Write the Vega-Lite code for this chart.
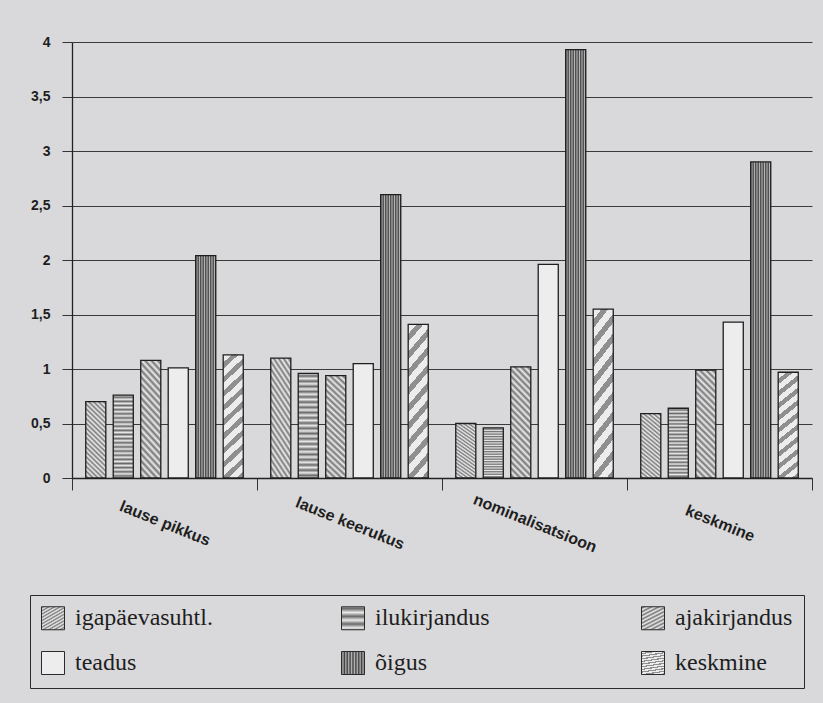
{
  "$schema": "https://vega.github.io/schema/vega-lite/v6.json",
  "width": 740,
  "height": 436,
  "autosize": {"type": "none"},
  "padding": {"left": 72, "top": 42, "right": 11, "bottom": 225},
  "background": "#d9d9db",
  "config": {"view": {"stroke": null}},
  "data": {
    "values": [
      {"kategooria": "lause pikkus", "tekst": "igapäevasuhtl.", "vaartus": 0.70},
      {"kategooria": "lause pikkus", "tekst": "ilukirjandus", "vaartus": 0.76},
      {"kategooria": "lause pikkus", "tekst": "ajakirjandus", "vaartus": 1.08},
      {"kategooria": "lause pikkus", "tekst": "teadus", "vaartus": 1.01},
      {"kategooria": "lause pikkus", "tekst": "õigus", "vaartus": 2.04},
      {"kategooria": "lause pikkus", "tekst": "keskmine", "vaartus": 1.13},
      {"kategooria": "lause keerukus", "tekst": "igapäevasuhtl.", "vaartus": 1.10},
      {"kategooria": "lause keerukus", "tekst": "ilukirjandus", "vaartus": 0.96},
      {"kategooria": "lause keerukus", "tekst": "ajakirjandus", "vaartus": 0.94},
      {"kategooria": "lause keerukus", "tekst": "teadus", "vaartus": 1.05},
      {"kategooria": "lause keerukus", "tekst": "õigus", "vaartus": 2.60},
      {"kategooria": "lause keerukus", "tekst": "keskmine", "vaartus": 1.41},
      {"kategooria": "nominalisatsioon", "tekst": "igapäevasuhtl.", "vaartus": 0.50},
      {"kategooria": "nominalisatsioon", "tekst": "ilukirjandus", "vaartus": 0.46},
      {"kategooria": "nominalisatsioon", "tekst": "ajakirjandus", "vaartus": 1.02},
      {"kategooria": "nominalisatsioon", "tekst": "teadus", "vaartus": 1.96},
      {"kategooria": "nominalisatsioon", "tekst": "õigus", "vaartus": 3.93},
      {"kategooria": "nominalisatsioon", "tekst": "keskmine", "vaartus": 1.55},
      {"kategooria": "keskmine", "tekst": "igapäevasuhtl.", "vaartus": 0.59},
      {"kategooria": "keskmine", "tekst": "ilukirjandus", "vaartus": 0.64},
      {"kategooria": "keskmine", "tekst": "ajakirjandus", "vaartus": 0.99},
      {"kategooria": "keskmine", "tekst": "teadus", "vaartus": 1.43},
      {"kategooria": "keskmine", "tekst": "õigus", "vaartus": 2.90},
      {"kategooria": "keskmine", "tekst": "keskmine", "vaartus": 0.97}
    ]
  },
  "mark": {"type": "bar", "stroke": "#1e1e1e", "strokeWidth": 1.3},
  "encoding": {
    "x": {
      "field": "kategooria",
      "type": "nominal",
      "sort": ["lause pikkus", "lause keerukus", "nominalisatsioon", "keskmine"],
      "scale": {"paddingInner": 0, "paddingOuter": 0},
      "axis": {
        "title": null,
        "tickBand": "extent",
        "tickSize": 12,
        "tickColor": "#333333",
        "domainColor": "#222222",
        "domainWidth": 1.3,
        "labelAngle": 22,
        "labelAlign": "center",
        "labelBaseline": "middle",
        "labelPadding": 33,
        "labelFont": "Liberation Sans",
        "labelFontWeight": "bold",
        "labelFontSize": 16,
        "labelColor": "#1e1e1e"
      }
    },
    "xOffset": {
      "field": "tekst",
      "type": "nominal",
      "sort": ["igapäevasuhtl.", "ilukirjandus", "ajakirjandus", "teadus", "õigus", "keskmine"],
      "scale": {"paddingInner": 0.27, "paddingOuter": 0.5}
    },
    "y": {
      "field": "vaartus",
      "type": "quantitative",
      "scale": {"domain": [0, 4]},
      "axis": {
        "title": null,
        "values": [0, 0.5, 1, 1.5, 2, 2.5, 3, 3.5, 4],
        "labelExpr": "replace(toString(datum.value), '.', ',')",
        "grid": true,
        "gridColor": "#3a3a3a",
        "gridWidth": 1,
        "tickSize": 10,
        "tickColor": "#333333",
        "domainColor": "#222222",
        "domainWidth": 1.3,
        "labelPadding": 12,
        "labelFont": "Liberation Sans",
        "labelFontWeight": "bold",
        "labelFontSize": 14,
        "labelColor": "#1e1e1e"
      }
    },
    "fill": {
      "field": "tekst",
      "type": "nominal",
      "sort": ["igapäevasuhtl.", "ilukirjandus", "ajakirjandus", "teadus", "õigus", "keskmine"],
      "scale": {
        "domain": ["igapäevasuhtl.", "ilukirjandus", "ajakirjandus", "teadus", "õigus", "keskmine"],
        "range": [
          {"expr": "{gradient:'linear',x1:1,y1:0,x2:0.698,y2:1.179,stops:[{offset:0,color:'#eeeeee'},{offset:0.025,color:'#7a7a7a'},{offset:0.05,color:'#eeeeee'},{offset:0.075,color:'#7a7a7a'},{offset:0.1,color:'#eeeeee'},{offset:0.125,color:'#7a7a7a'},{offset:0.15,color:'#eeeeee'},{offset:0.175,color:'#7a7a7a'},{offset:0.2,color:'#eeeeee'},{offset:0.225,color:'#7a7a7a'},{offset:0.25,color:'#eeeeee'},{offset:0.275,color:'#7a7a7a'},{offset:0.3,color:'#eeeeee'},{offset:0.325,color:'#7a7a7a'},{offset:0.35,color:'#eeeeee'},{offset:0.375,color:'#7a7a7a'},{offset:0.4,color:'#eeeeee'},{offset:0.425,color:'#7a7a7a'},{offset:0.45,color:'#eeeeee'},{offset:0.475,color:'#7a7a7a'},{offset:0.5,color:'#eeeeee'},{offset:0.525,color:'#7a7a7a'},{offset:0.55,color:'#eeeeee'},{offset:0.575,color:'#7a7a7a'},{offset:0.6,color:'#eeeeee'},{offset:0.625,color:'#7a7a7a'},{offset:0.65,color:'#eeeeee'},{offset:0.675,color:'#7a7a7a'},{offset:0.7,color:'#eeeeee'},{offset:0.725,color:'#7a7a7a'},{offset:0.75,color:'#eeeeee'},{offset:0.775,color:'#7a7a7a'},{offset:0.8,color:'#eeeeee'},{offset:0.825,color:'#7a7a7a'},{offset:0.85,color:'#eeeeee'},{offset:0.875,color:'#7a7a7a'},{offset:0.9,color:'#eeeeee'},{offset:0.925,color:'#7a7a7a'},{offset:0.95,color:'#eeeeee'},{offset:0.975,color:'#7a7a7a'},{offset:1,color:'#eeeeee'}]}"},
          {"expr": "{gradient:'linear',x1:0,y1:0,x2:0,y2:1,stops:[{offset:0,color:'#eaeaea'},{offset:0.025,color:'#6a6a6a'},{offset:0.05,color:'#eaeaea'},{offset:0.075,color:'#6a6a6a'},{offset:0.1,color:'#eaeaea'},{offset:0.125,color:'#6a6a6a'},{offset:0.15,color:'#eaeaea'},{offset:0.175,color:'#6a6a6a'},{offset:0.2,color:'#eaeaea'},{offset:0.225,color:'#6a6a6a'},{offset:0.25,color:'#eaeaea'},{offset:0.275,color:'#6a6a6a'},{offset:0.3,color:'#eaeaea'},{offset:0.325,color:'#6a6a6a'},{offset:0.35,color:'#eaeaea'},{offset:0.375,color:'#6a6a6a'},{offset:0.4,color:'#eaeaea'},{offset:0.425,color:'#6a6a6a'},{offset:0.45,color:'#eaeaea'},{offset:0.475,color:'#6a6a6a'},{offset:0.5,color:'#eaeaea'},{offset:0.525,color:'#6a6a6a'},{offset:0.55,color:'#eaeaea'},{offset:0.575,color:'#6a6a6a'},{offset:0.6,color:'#eaeaea'},{offset:0.625,color:'#6a6a6a'},{offset:0.65,color:'#eaeaea'},{offset:0.675,color:'#6a6a6a'},{offset:0.7,color:'#eaeaea'},{offset:0.725,color:'#6a6a6a'},{offset:0.75,color:'#eaeaea'},{offset:0.775,color:'#6a6a6a'},{offset:0.8,color:'#eaeaea'},{offset:0.825,color:'#6a6a6a'},{offset:0.85,color:'#eaeaea'},{offset:0.875,color:'#6a6a6a'},{offset:0.9,color:'#eaeaea'},{offset:0.925,color:'#6a6a6a'},{offset:0.95,color:'#eaeaea'},{offset:0.975,color:'#6a6a6a'},{offset:1,color:'#eaeaea'}]}"},
          {"expr": "{gradient:'linear',x1:1,y1:0,x2:0.787,y2:1.146,stops:[{offset:0,color:'#ececec'},{offset:0.025,color:'#767676'},{offset:0.05,color:'#ececec'},{offset:0.075,color:'#767676'},{offset:0.1,color:'#ececec'},{offset:0.125,color:'#767676'},{offset:0.15,color:'#ececec'},{offset:0.175,color:'#767676'},{offset:0.2,color:'#ececec'},{offset:0.225,color:'#767676'},{offset:0.25,color:'#ececec'},{offset:0.275,color:'#767676'},{offset:0.3,color:'#ececec'},{offset:0.325,color:'#767676'},{offset:0.35,color:'#ececec'},{offset:0.375,color:'#767676'},{offset:0.4,color:'#ececec'},{offset:0.425,color:'#767676'},{offset:0.45,color:'#ececec'},{offset:0.475,color:'#767676'},{offset:0.5,color:'#ececec'},{offset:0.525,color:'#767676'},{offset:0.55,color:'#ececec'},{offset:0.575,color:'#767676'},{offset:0.6,color:'#ececec'},{offset:0.625,color:'#767676'},{offset:0.65,color:'#ececec'},{offset:0.675,color:'#767676'},{offset:0.7,color:'#ececec'},{offset:0.725,color:'#767676'},{offset:0.75,color:'#ececec'},{offset:0.775,color:'#767676'},{offset:0.8,color:'#ececec'},{offset:0.825,color:'#767676'},{offset:0.85,color:'#ececec'},{offset:0.875,color:'#767676'},{offset:0.9,color:'#ececec'},{offset:0.925,color:'#767676'},{offset:0.95,color:'#ececec'},{offset:0.975,color:'#767676'},{offset:1,color:'#ececec'}]}"},
          "#ededed",
          {"expr": "{gradient:'linear',x1:0,y1:0,x2:1,y2:0,stops:[{offset:0,color:'#3a3a3a'},{offset:0.0625,color:'#b5b5b5'},{offset:0.125,color:'#3a3a3a'},{offset:0.1875,color:'#b5b5b5'},{offset:0.25,color:'#3a3a3a'},{offset:0.3125,color:'#b5b5b5'},{offset:0.375,color:'#3a3a3a'},{offset:0.4375,color:'#b5b5b5'},{offset:0.5,color:'#3a3a3a'},{offset:0.5625,color:'#b5b5b5'},{offset:0.625,color:'#3a3a3a'},{offset:0.6875,color:'#b5b5b5'},{offset:0.75,color:'#3a3a3a'},{offset:0.8125,color:'#b5b5b5'},{offset:0.875,color:'#3a3a3a'},{offset:0.9375,color:'#b5b5b5'},{offset:1,color:'#3a3a3a'}]}"},
          {"expr": "{gradient:'linear',x1:0,y1:0,x2:0.171,y2:1.126,stops:[{offset:0,color:'#ececec'},{offset:0.055,color:'#ececec'},{offset:0.055,color:'#8f8f8f'},{offset:0.1,color:'#8f8f8f'},{offset:0.1,color:'#ececec'},{offset:0.155,color:'#ececec'},{offset:0.155,color:'#8f8f8f'},{offset:0.2,color:'#8f8f8f'},{offset:0.2,color:'#ececec'},{offset:0.255,color:'#ececec'},{offset:0.255,color:'#8f8f8f'},{offset:0.3,color:'#8f8f8f'},{offset:0.3,color:'#ececec'},{offset:0.355,color:'#ececec'},{offset:0.355,color:'#8f8f8f'},{offset:0.4,color:'#8f8f8f'},{offset:0.4,color:'#ececec'},{offset:0.455,color:'#ececec'},{offset:0.455,color:'#8f8f8f'},{offset:0.5,color:'#8f8f8f'},{offset:0.5,color:'#ececec'},{offset:0.555,color:'#ececec'},{offset:0.555,color:'#8f8f8f'},{offset:0.6,color:'#8f8f8f'},{offset:0.6,color:'#ececec'},{offset:0.655,color:'#ececec'},{offset:0.655,color:'#8f8f8f'},{offset:0.7,color:'#8f8f8f'},{offset:0.7,color:'#ececec'},{offset:0.755,color:'#ececec'},{offset:0.755,color:'#8f8f8f'},{offset:0.8,color:'#8f8f8f'},{offset:0.8,color:'#ececec'},{offset:0.855,color:'#ececec'},{offset:0.855,color:'#8f8f8f'},{offset:0.9,color:'#8f8f8f'},{offset:0.9,color:'#ececec'},{offset:0.955,color:'#ececec'},{offset:0.955,color:'#8f8f8f'},{offset:1,color:'#8f8f8f'}]}"}
        ]
      },
      "legend": {
        "title": null,
        "orient": "none",
        "legendX": -42,
        "legendY": 553,
        "columns": 3,
        "direction": "horizontal",
        "gridAlign": "all",
        "columnPadding": 126,
        "rowPadding": 17,
        "padding": 11,
        "strokeColor": "#2a2a2a",
        "fillColor": "#d9d9db",
        "symbolType": "square",
        "symbolSize": 529,
        "symbolStrokeColor": "#2a2a2a",
        "symbolStrokeWidth": 1,
        "labelFont": "Liberation Serif",
        "labelFontSize": 24,
        "labelColor": "#1e1e1e",
        "labelOffset": 10,
        "labelLimit": 300
      }
    }
  }
}
